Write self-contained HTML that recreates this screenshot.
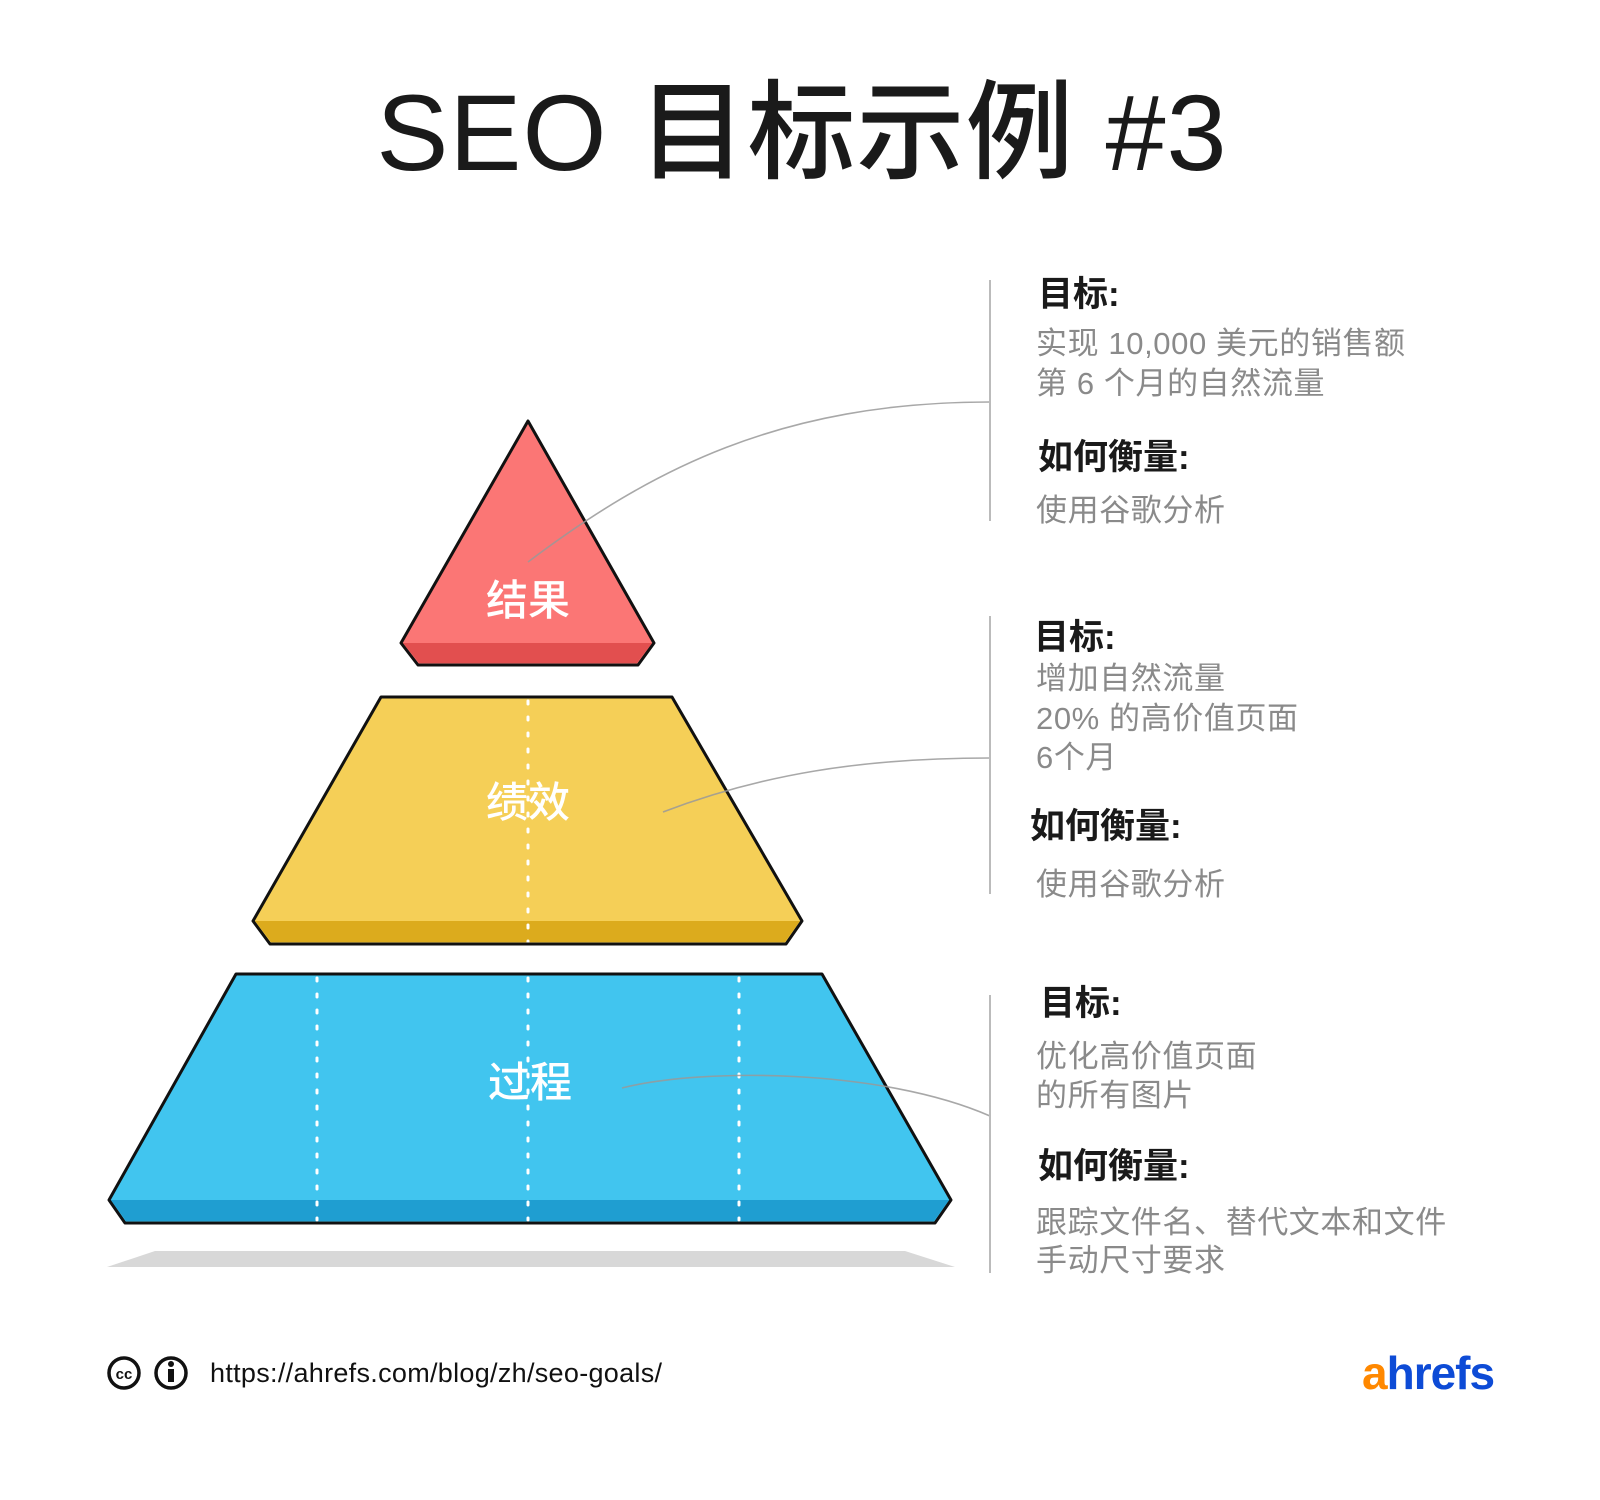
<!DOCTYPE html>
<html><head><meta charset="utf-8"><style>
body{margin:0;background:#fff;}
svg text{font-family:"Liberation Sans","Noto Sans CJK SC",sans-serif;}
</style></head><body>
<svg width="1600" height="1495" viewBox="0 0 1600 1495" xmlns="http://www.w3.org/2000/svg">
<rect width="1600" height="1495" fill="#fff"/>
<text x="802" y="170" text-anchor="middle" font-size="108" font-weight="500" fill="#1a1a1a" letter-spacing="1">SEO 目标示例 #3</text>

<g transform="translate(0,-5)">
<!-- shadow -->
<polygon points="155,1256 905,1256 955,1272 107,1272" fill="#d8d8d8"/>

<!-- blue -->
<polygon points="236,979 822,979 951,1205 935,1228 125,1228 109,1205" fill="#41c5ef"/>
<polygon points="111,1205 949,1205 934,1226 126,1226" fill="#1f9ed1"/>
<g stroke="#fff" stroke-width="3" stroke-dasharray="3,13" stroke-linecap="round">
<line x1="317" y1="983" x2="317" y2="1225"/>
<line x1="528" y1="983" x2="528" y2="1225"/>
<line x1="739" y1="983" x2="739" y2="1225"/>
</g>
<polygon points="236,979 822,979 951,1205 935,1228 125,1228 109,1205" fill="none" stroke="#111" stroke-width="3" stroke-linejoin="round"/>

<!-- yellow -->
<polygon points="381,702 672,702 802,926 786,949 270,949 253,926" fill="#f5cf57"/>
<polygon points="255,926 800,926 785,947 271,947" fill="#dcab1d"/>
<line x1="528" y1="706" x2="528" y2="947" stroke="#fff" stroke-width="3" stroke-dasharray="3,13" stroke-linecap="round"/>
<polygon points="381,702 672,702 802,926 786,949 270,949 253,926" fill="none" stroke="#111" stroke-width="3" stroke-linejoin="round"/>

<!-- red -->
<polygon points="528,426 654,648 638,670 418,670 401,648" fill="#fb7675"/>
<polygon points="403,648 652,648 637,668 419,668" fill="#e24f4f"/>
<polygon points="528,426 654,648 638,670 418,670 401,648" fill="none" stroke="#111" stroke-width="3" stroke-linejoin="round"/>

<!-- labels -->
<g fill="#fff" font-size="42" font-weight="500" text-anchor="middle">
<text x="528" y="620">结果</text>
<text x="528" y="822">绩效</text>
<text x="530" y="1102">过程</text>
</g>
</g>

<!-- connectors -->
<g fill="none" stroke="#999" stroke-width="1.6" opacity="0.85">
<path d="M528,562 C650,470 780,402 990,402"/>
<path d="M663,812 C760,775 860,758 990,758"/>
<path d="M622,1088 C700,1068 880,1068 990,1116"/>
</g>
<g stroke="#bbb" stroke-width="2">
<line x1="990" y1="280" x2="990" y2="521"/>
<line x1="990" y1="616" x2="990" y2="894"/>
<line x1="990" y1="995" x2="990" y2="1273"/>
</g>

<!-- text blocks -->
<g font-size="35" font-weight="bold" fill="#1a1a1a">
<text x="1038" y="306">目标:</text>
<text x="1038" y="469">如何衡量:</text>
<text x="1034" y="649">目标:</text>
<text x="1030" y="838">如何衡量:</text>
<text x="1040" y="1015">目标:</text>
<text x="1038" y="1178">如何衡量:</text>
</g>
<g font-size="31" fill="#8a8a8a" letter-spacing="0.6">
<text x="1036" y="354">实现 10,000 美元的销售额</text>
<text x="1036" y="394">第 6 个月的自然流量</text>
<text x="1036" y="521">使用谷歌分析</text>
<text x="1036" y="689">增加自然流量</text>
<text x="1036" y="729">20% 的高价值页面</text>
<text x="1036" y="768">6个月</text>
<text x="1036" y="895">使用谷歌分析</text>
<text x="1036" y="1067">优化高价值页面</text>
<text x="1036" y="1106">的所有图片</text>
<text x="1036" y="1233">跟踪文件名、替代文本和文件</text>
<text x="1036" y="1271">手动尺寸要求</text>
</g>

<!-- footer -->
<g>
<circle cx="124" cy="1373" r="15" fill="none" stroke="#111" stroke-width="3.5"/>
<text x="124" y="1379" text-anchor="middle" font-size="15" font-weight="bold" fill="#111">cc</text>
<circle cx="171" cy="1373" r="15" fill="none" stroke="#111" stroke-width="3.5"/>
<circle cx="171" cy="1364" r="3" fill="#111"/>
<rect x="168" y="1369" width="6" height="13" fill="#111"/>
</g>
<text x="210" y="1382" font-size="27" fill="#111" letter-spacing="0.3">https://ahrefs.com/blog/zh/seo-goals/</text>
<text x="1362" y="1389" font-size="46" font-weight="bold" letter-spacing="-1"><tspan fill="#ff8800">a</tspan><tspan fill="#0d4bd6">hrefs</tspan></text>
</svg>
</body></html>
